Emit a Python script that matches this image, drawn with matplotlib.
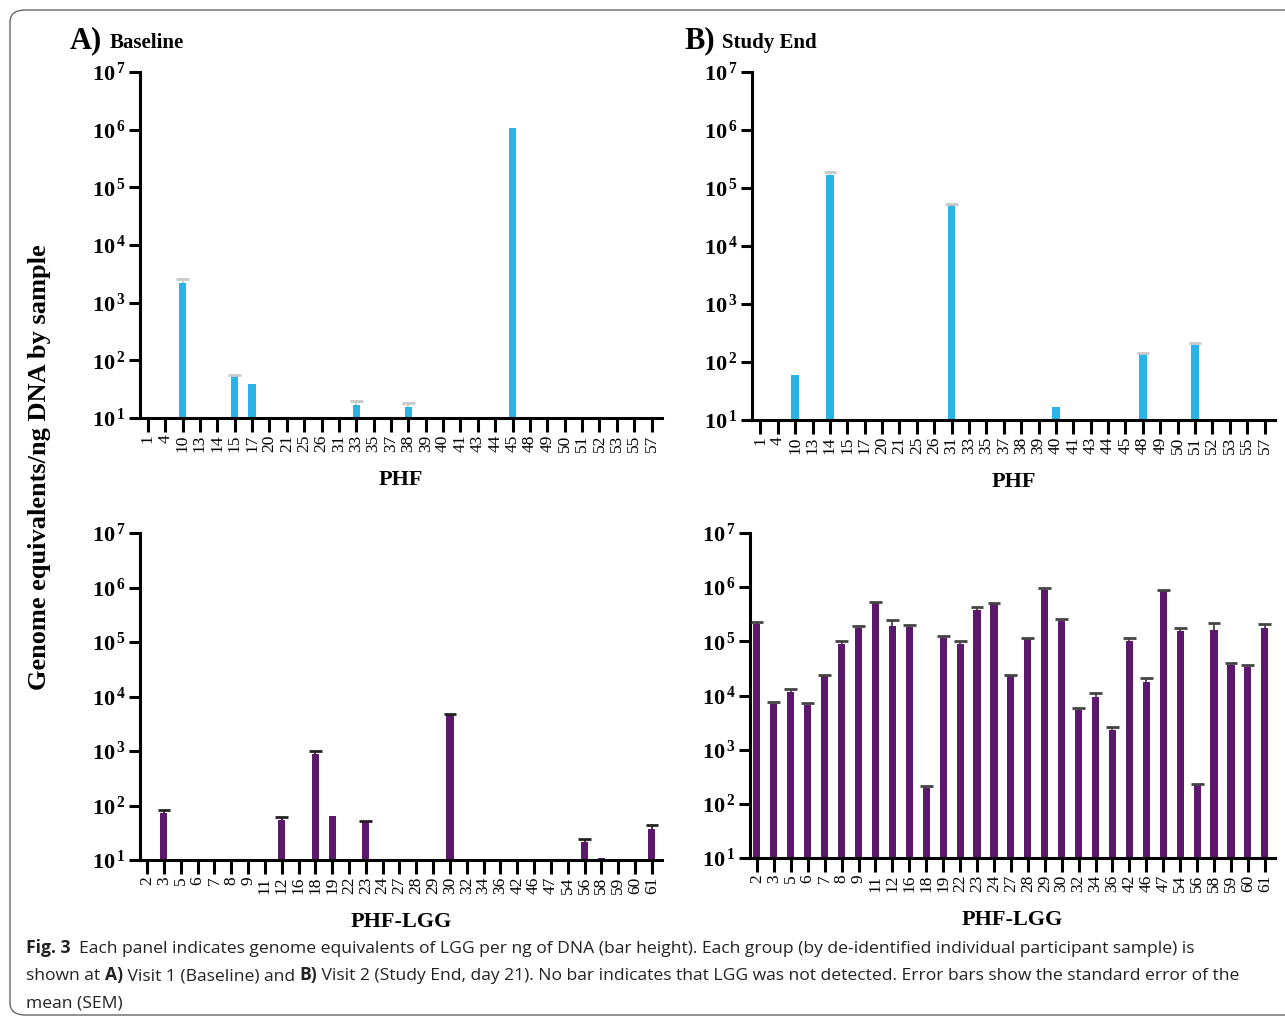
import numpy as np
import matplotlib
matplotlib.use('Agg')
import matplotlib.pyplot as plt
from matplotlib.patches import FancyBboxPatch

plt.rcParams['font.family'] = 'Liberation Serif'
plt.rcParams['mathtext.fontset'] = 'custom'
plt.rcParams['mathtext.rm'] = 'Liberation Serif'
plt.rcParams['mathtext.bf'] = 'Liberation Serif:bold'

# sample ids on the x axis
phf_ids = ['1', '4', '10', '13', '14', '15', '17', '20', '21', '25', '26', '31', '33', '35', '37',
           '38', '39', '40', '41', '43', '44', '45', '48', '49', '50', '51', '52', '53', '55', '57']
lgg_ids = ['2', '3', '5', '6', '7', '8', '9', '11', '12', '16', '18', '19', '22', '23', '24', '27',
           '28', '29', '30', '32', '34', '36', '42', '46', '47', '54', '56', '58', '59', '60', '61']

# genome equivalents / ng DNA (missing = not detected) and upper SEM end (missing = no bar shown)
phf_base = {'10': 2200, '15': 53, '17': 39, '33': 17, '38': 15.5, '45': 1.07e6}
phf_base_err = {'10': 2600, '15': 56, '33': 20, '38': 18}
phf_end = {'10': 60, '14': 1.67e5, '31': 5.1e4, '40': 17, '48': 137, '51': 196}
phf_end_err = {'14': 1.9e5, '31': 5.3e4, '48': 142, '51': 210}
lgg_base = {'3': 74, '12': 54, '18': 880, '19': 64, '23': 49, '30': 4570, '56': 21, '58': 11, '61': 37}
lgg_base_err = {'3': 81, '12': 62, '18': 980, '23': 51, '30': 4780, '56': 24, '61': 44}
lgg_end_vals = [2.05e5, 7000, 11700, 6600, 22700, 88000, 1.77e5, 5.0e5, 1.9e5, 1.83e5, 200,
                1.14e5, 88000, 3.8e5, 5.0e5, 23000, 1.12e5, 8.9e5, 2.4e5, 5400, 9200, 2350,
                1.0e5, 17400, 8.7e5, 1.54e5, 225, 1.6e5, 36000, 33000, 1.77e5]
lgg_end_errs = [2.3e5, 7500, 13000, 7200, 24000, 1.02e5, 1.92e5, 5.4e5, 2.5e5, 2.0e5, 215,
                1.24e5, 1.02e5, 4.3e5, 5.1e5, 23500, 1.14e5, 9.8e5, 2.6e5, 6000, 11000, 2600,
                1.15e5, 20600, 9.0e5, 1.74e5, 235, 2.2e5, 40500, 37000, 2.1e5]
lgg_end = dict(zip(lgg_ids, lgg_end_vals))
lgg_end_err = dict(zip(lgg_ids, lgg_end_errs))

blue = '#29b3e6'
purple = '#5c186a'

W, H = 1285, 1021
fig = plt.figure(figsize=(W / 100, H / 100), dpi=100)


def px_axes(left, top, right, bottom):
    return fig.add_axes([left / W, 1 - bottom / H, (right - left) / W, (bottom - top) / H])


def panel(ax, ids, vals, errs, color, ecolor, xlabel, xmin, cap=0.38):
    xs = np.arange(len(ids))
    bx = [i for i, s in enumerate(ids) if s in vals]
    bh = [vals[ids[i]] for i in bx]
    ax.bar(bx, bh, width=0.42, color=color, edgecolor='none', zorder=2)
    # upper-only SEM bars
    ex = np.array([i for i, s in enumerate(ids) if s in errs])
    lo = [vals[ids[i]] for i in ex]
    hi = [errs[ids[i]] for i in ex]
    if len(ex):
        ax.vlines(ex, lo, hi, color=ecolor, linewidth=1.3, zorder=3)
        ax.hlines(hi, ex - cap, ex + cap, color=ecolor, linewidth=2.0, zorder=3)
    ax.set_yscale('log')
    ax.set_ylim(10, 1e7)
    ax.set_xlim(xmin, len(ids) - 0.4)
    ax.set_yticks([10 ** k for k in range(1, 8)])
    ax.set_yticklabels([r'$\mathbf{10^{\,%d}}$' % k for k in range(1, 8)], fontsize=16)
    ax.minorticks_off()
    ax.set_xticks(xs)
    ax.set_xticklabels(ids, rotation=90, fontsize=12.5)
    for s in ['top', 'right']:
        ax.spines[s].set_visible(False)
    for s in ['left', 'bottom']:
        ax.spines[s].set_linewidth(2.2)
    ax.tick_params(axis='y', length=8, width=2.2, pad=2)
    ax.tick_params(axis='x', length=10, width=2.2, pad=2)
    ax.set_xlabel(xlabel, fontsize=16, fontweight='bold', labelpad=13)


ax1 = px_axes(140, 72, 662, 418)
panel(ax1, phf_ids, phf_base, phf_base_err, blue, '#c8c8c8', 'PHF', -0.45, cap=0.36)
ax2 = px_axes(752, 72, 1275, 420)
panel(ax2, phf_ids, phf_end, phf_end_err, blue, '#c8c8c8', 'PHF', -0.48, cap=0.36)
ax3 = px_axes(140, 533, 662, 860)
panel(ax3, lgg_ids, lgg_base, lgg_base_err, purple, '#222222', 'PHF-LGG', -0.42)
ax4 = px_axes(750, 533, 1275, 858)
panel(ax4, lgg_ids, lgg_end, lgg_end_err, purple, '#444444', 'PHF-LGG', -0.41)

fig.text(40 / W, 1 - 467 / H, 'Genome equivalents/ng DNA by sample', rotation=90,
         fontsize=19, fontweight='bold', ha='center', va='center')

renderer = fig.canvas.get_renderer()


def rich(x, y, parts, gap=0.0, **kw):
    # parts: (text, fontsize, weight); x, y in pixels from top-left
    for s, size, weight in parts:
        t = fig.text(x / W, 1 - y / H, s, fontsize=size, fontweight=weight, va='baseline', **kw)
        x += t.get_window_extent(renderer).width + gap


rich(70, 48, [('A)', 22, 'bold'), ('Baseline', 15, 'bold')], gap=7)
rich(684, 48, [('B)', 22, 'bold'), ('Study End', 15, 'bold')], gap=7)

cap_kw = dict(family='Open Sans', color='#222222')
fs = 12.6
rich(26, 953, [('Fig. 3', fs, 'bold'),
               ('  Each panel indicates genome equivalents of LGG per ng of DNA (bar height). '
                'Each group (by de-identified individual participant sample) is', fs, 'normal')], **cap_kw)
rich(26, 980, [('shown at ', fs, 'normal'), ('A)', fs, 'bold'),
               (' Visit 1 (Baseline) and ', fs, 'normal'), ('B)', fs, 'bold'),
               (' Visit 2 (Study End, day 21). No bar indicates that LGG was not detected. '
                'Error bars show the standard error of the', fs, 'normal')], **cap_kw)
rich(26, 1007, [('mean (SEM)', fs, 'normal')], **cap_kw)

border = FancyBboxPatch((10 / W, 6 / H), 1.2, 1 - 16 / H, boxstyle='round,pad=0,rounding_size=0.012',
                        transform=fig.transFigure, fill=False, edgecolor='#666666', linewidth=1.0,
                        clip_on=False)
fig.patches.append(border)

fig.savefig('out.png', dpi=100)
